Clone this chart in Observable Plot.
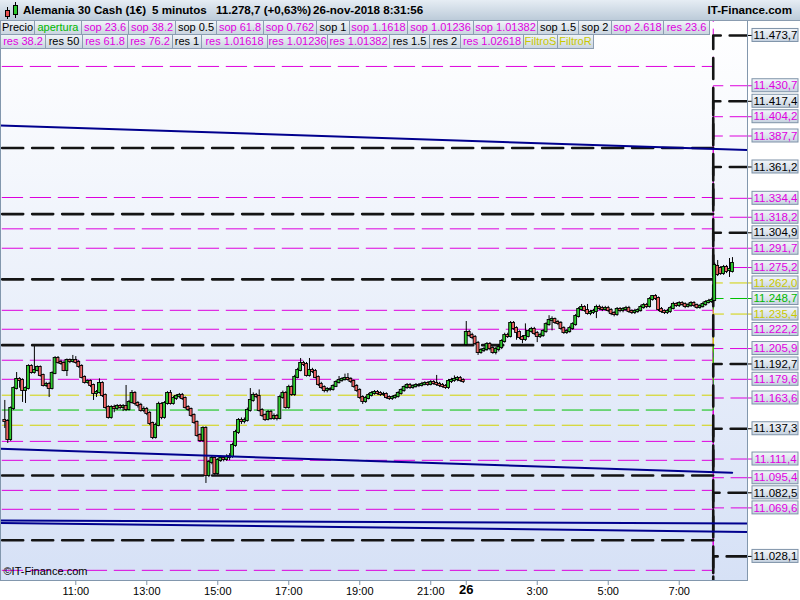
<!DOCTYPE html>
<html><head><meta charset="utf-8">
<script src="https://cdn.jsdelivr.net/npm/d3@7"></script>
<script src="https://cdn.jsdelivr.net/npm/@observablehq/plot@0.6"></script>
<style>
body{margin:0;background:#fff;}
#wrap{position:relative;width:800px;height:600px;overflow:hidden;font-family:"Liberation Sans",Arial,sans-serif;}
#chart{position:absolute;left:0;top:20px;}
#hdr{position:absolute;left:0;top:0;width:800px;height:21px;background:linear-gradient(#e6edf4,#bccbd9);box-sizing:border-box;border-bottom:1px solid #8a9cb0;}
.ht{position:absolute;top:3px;font-weight:bold;font-size:11.6px;color:#000;white-space:nowrap;}
.lg{position:absolute;height:15px;box-sizing:border-box;border:1px solid #8c9eb2;background:linear-gradient(#f0f4f8,#cad5e0);font-size:11px;line-height:13px;text-align:center;white-space:nowrap;overflow:hidden;}
</style></head><body>
<div id="wrap"><div id="chart"></div><div id="hdr"></div><div id="legend"></div></div>
<script>
// ---------- data ----------
const titleParts = ["Alemania 30 Cash (1€)", "5 minutos", "11.278,7 (+0,63%)", "26-nov-2018 8:31:56"];
const siteName = "IT-Finance.com";

// 5-minute bars: index 0 = Fri 23-nov 9:00 ... 155 = 21:55, 156 = Mon 26-nov 1:00 ... 246 = 8:30
const opens = [11144.4,11143.5,11128.1,11154.6,11171.7,11179.4,11178.6,11170.0,11171.7,11190.6,11185.4,11187.1,11189.7,11182.9,11174.3,11175.2,11171.7,11184.6,11197.4,11194.0,11193.1,11187.1,11195.7,11194.8,11195.7,11194.0,11190.6,11181.2,11176.9,11177.7,11174.3,11167.5,11168.3,11176.0,11165.8,11155.5,11147.0,11155.5,11154.6,11156.3,11155.5,11156.3,11153.8,11159.8,11167.5,11158.9,11157.2,11152.9,11153.8,11150.4,11141.8,11129.8,11140.1,11158.1,11147.0,11158.9,11167.5,11158.9,11163.2,11164.9,11165.8,11163.2,11155.5,11153.8,11148.7,11142.7,11131.5,11127.2,11137.5,11097.3,11108.4,11111.9,11099.0,11110.1,11111.9,11111.0,11112.7,11113.5,11123.0,11134.1,11144.4,11143.5,11144.4,11152.9,11161.5,11165.8,11164.9,11152.9,11148.7,11145.2,11151.2,11146.1,11147.8,11146.1,11164.0,11167.5,11155.5,11172.6,11166.6,11181.2,11187.1,11193.1,11192.3,11182.9,11187.1,11186.3,11181.2,11175.2,11172.6,11170.0,11170.9,11170.9,11173.5,11176.9,11178.6,11179.4,11180.3,11179.4,11177.7,11173.5,11170.0,11164.0,11160.6,11163.2,11165.8,11167.5,11168.3,11167.5,11166.6,11166.6,11164.0,11163.2,11164.0,11164.9,11167.5,11170.0,11172.6,11174.3,11172.6,11173.5,11174.3,11174.3,11175.2,11176.0,11175.2,11176.9,11176.0,11175.2,11174.3,11173.5,11172.6,11177.7,11178.6,11179.4,11180.3,11178.6,
11209.3,11219.6,11217.0,11215.3,11210.2,11202.5,11204.2,11205.1,11209.3,11205.9,11202.5,11205.1,11206.8,11211.9,11217.0,11216.2,11227.3,11223.0,11219.6,11215.3,11213.6,11216.2,11220.5,11222.2,11218.8,11216.2,11217.0,11220.5,11226.4,11229.9,11230.7,11228.2,11227.3,11223.0,11219.6,11220.5,11223.0,11226.4,11233.3,11239.3,11241.0,11238.4,11235.9,11236.7,11237.6,11241.0,11240.1,11239.3,11240.1,11238.4,11235.9,11235.0,11239.3,11238.4,11239.3,11240.1,11237.6,11236.7,11237.6,11238.4,11241.0,11242.7,11241.9,11247.9,11250.4,11248.7,11239.3,11237.6,11236.7,11237.6,11240.1,11243.6,11242.7,11244.4,11243.6,11241.9,11242.7,11244.4,11242.7,11241.0,11241.9,11243.6,11245.3,11246.1,11247.0,11276.1,11274.4,11270.1,11275.2,11272.7,11271.8];
const highs = [11161.5,11145,11156,11173,11185.4,11181,11180,11173,11192,11192,11207.6,11191,11191,11184,11177,11177,11186,11199,11199.1,11196,11195,11197,11197,11200,11199,11195.5,11192,11182.5,11179,11179,11175.5,11170,11180,11177.5,11167,11157,11157,11157.5,11158,11158,11158,11174.3,11161.5,11170,11169,11160.5,11159,11156,11155.5,11152,11143,11142,11160,11159.5,11160.5,11169,11170,11165,11166.5,11167.5,11167.5,11164.5,11157,11155,11150,11144,11133,11139,11139,11110,11114,11113,11112,11114,11113.5,11115,11116,11125,11136,11146,11146.5,11146.5,11155,11171.7,11168,11167.5,11170.5,11154.5,11150,11153,11153,11150,11149.5,11166,11169.5,11169,11174.5,11174,11183,11189,11197.4,11195,11194,11197.4,11189,11188,11182.5,11177,11174,11172.5,11172.5,11175,11178.5,11182,11181,11184,11184.5,11181,11179,11175,11171.5,11165.5,11165,11167.5,11169,11170,11170,11169,11168.5,11168,11165.5,11165.5,11166.5,11169,11171.5,11174,11176,11176,11175,11176,11176,11177,11177.5,11177.5,11178.5,11178.5,11182.9,11177,11176,11175,11179.5,11180.5,11182.5,11182,11182,11180,
11229.0,11221.5,11219,11217,11212,11206,11207,11211,11211,11207.5,11207,11209,11213.5,11219,11219,11229,11229,11224.5,11221,11217,11227,11222,11224,11224,11220.5,11219,11222,11228,11234,11233,11232,11230,11229,11224.5,11222,11225,11228,11235,11241,11243.6,11242.5,11243.6,11238.5,11239.5,11243,11243,11242,11242,11242,11240,11237.5,11241,11241,11241,11242,11242,11239,11239.5,11240,11243,11244.5,11244.5,11249.5,11251.3,11252,11250,11241,11239,11239.5,11242,11245.5,11245,11246,11246,11245,11244.5,11246,11246,11244,11243.5,11245.5,11247,11248,11249,11279,11281.2,11276,11277,11277,11282.9,11283.7];
const lows = [11137.5,11124.7,11126.5,11153,11170.5,11172,11159.8,11158.9,11170.5,11184,11184,11186,11181.5,11173,11172.5,11164.0,11170.5,11183.5,11192.5,11191.5,11186,11182.0,11193,11193.5,11192.5,11189,11180,11175.5,11175.5,11172.5,11161.5,11164,11167,11164,11154,11145.5,11145.5,11151,11153,11153.5,11152,11152,11152.5,11158.5,11157,11155,11151.5,11151,11148.5,11140,11128,11128.5,11139,11145,11145.5,11157.5,11157.5,11157.5,11161.5,11163,11161.5,11154,11152,11147,11141,11130,11125.5,11125.5,11090.5,11095.5,11106.5,11097.5,11097.5,11108.5,11109,11109.5,11110,11112,11121.5,11132.5,11141,11141.5,11143,11151.5,11160,11163,11151.5,11147,11143.5,11144,11144.5,11144.5,11144,11145,11162.5,11154,11154,11165,11165,11180,11186,11190.5,11181.5,11181.5,11184.5,11180,11173.5,11171,11168,11168,11169,11169.5,11172.5,11175.5,11177,11178,11178,11176,11172,11168.5,11162.5,11158.1,11159,11162,11164.5,11166,11166,11165,11165,11162.5,11161.5,11161.5,11162.5,11163.5,11166,11168.5,11171,11171,11171,11172,11172.5,11173,11174,11173.5,11174,11174.5,11173.5,11172.5,11172,11171,11171,11176,11177,11177.5,11177,11176,
11208,11215.5,11213.5,11208.5,11200.0,11201,11202.5,11203.5,11204,11201,11200.5,11203,11205,11210.5,11214.5,11215,11221.5,11213,11213.5,11210,11212,11215,11219,11217,11211,11214.5,11215.5,11219,11225,11221,11226.5,11225.5,11221.5,11218,11218,11219,11221.5,11225,11232,11238,11237,11234.5,11234,11235,11231.5,11238.5,11237.5,11238,11236.5,11234,11233,11233.5,11236.5,11236.5,11237.5,11236,11235,11235,11236,11237,11239.5,11240,11240.5,11246.5,11247,11237.5,11236,11235,11235,11236,11239,11241,11241,11242,11240,11240.5,11241,11241,11239.5,11239.5,11240.5,11242,11244,11244.5,11246,11267.5,11268.5,11268.5,11270,11266.7,11270.5];
const closes = [11143.5,11128.1,11154.6,11171.7,11179.4,11178.6,11170.0,11171.7,11190.6,11185.4,11187.1,11189.7,11182.9,11174.3,11175.2,11171.7,11184.6,11197.4,11194.0,11193.1,11187.1,11195.7,11194.8,11195.7,11194.0,11190.6,11181.2,11176.9,11177.7,11174.3,11167.5,11168.3,11176.0,11165.8,11155.5,11147.0,11155.5,11154.6,11156.3,11155.5,11156.3,11153.8,11159.8,11167.5,11158.9,11157.2,11152.9,11153.8,11150.4,11141.8,11129.8,11140.1,11158.1,11147.0,11158.9,11167.5,11158.9,11163.2,11164.9,11165.8,11163.2,11155.5,11153.8,11148.7,11142.7,11131.5,11127.2,11137.5,11097.3,11108.4,11111.9,11099.0,11110.1,11111.9,11111.0,11112.7,11113.5,11123.0,11134.1,11144.4,11143.5,11144.4,11152.9,11161.5,11165.8,11164.9,11152.9,11148.7,11145.2,11151.2,11146.1,11147.8,11146.1,11164.0,11167.5,11155.5,11172.6,11166.6,11181.2,11187.1,11193.1,11192.3,11182.9,11187.1,11186.3,11181.2,11175.2,11172.6,11170.0,11170.9,11170.9,11173.5,11176.9,11178.6,11179.4,11180.3,11179.4,11177.7,11173.5,11170.0,11164.0,11160.6,11163.2,11165.8,11167.5,11168.3,11167.5,11166.6,11166.6,11164.0,11163.2,11164.0,11164.9,11167.5,11170.0,11172.6,11174.3,11172.6,11173.5,11174.3,11174.3,11175.2,11176.0,11175.2,11176.9,11176.0,11175.2,11174.3,11173.5,11172.6,11177.7,11178.6,11179.4,11180.3,11178.6,11177.7,
11219.6,11217.0,11215.3,11210.2,11202.5,11204.2,11205.1,11209.3,11205.9,11202.5,11205.1,11206.8,11211.9,11217.0,11216.2,11227.3,11223.0,11219.6,11215.3,11213.6,11216.2,11220.5,11222.2,11218.8,11216.2,11217.0,11220.5,11226.4,11229.9,11230.7,11228.2,11227.3,11223.0,11219.6,11220.5,11223.0,11226.4,11233.3,11239.3,11241.0,11238.4,11235.9,11236.7,11237.6,11241.0,11240.1,11239.3,11240.1,11238.4,11235.9,11235.0,11239.3,11238.4,11239.3,11240.1,11237.6,11236.7,11237.6,11238.4,11241.0,11242.7,11241.9,11247.9,11250.4,11248.7,11239.3,11237.6,11236.7,11237.6,11240.1,11243.6,11242.7,11244.4,11243.6,11241.9,11242.7,11244.4,11242.7,11241.0,11241.9,11243.6,11245.3,11246.1,11247.0,11276.9,11269.2,11270.1,11275.2,11271.8,11273.5,11278.7];

// x-axis ticks (bar index) and labels
const tickIdx = [24, 48, 72, 96, 120, 144, 156, 180, 204, 228];
const tickLabels = ["11:00","13:00","15:00","17:00","19:00","21:00","26","3:00","5:00","7:00"];

// pivot / fibonacci levels: previous session and current session (switch at 8:00)
const levelNames = ["apertura","sop 23.6","sop 38.2","sop 0.5","sop 61.8","sop 0.762","sop 1","sop 1.1618","sop 1.01236","sop 1.01382","sop 1.5","sop 2","sop 2.618","res 23.6","res 38.2","res 50","res 61.8","res 76.2","res 1","res 1.01618","res 1.01236","res 1.01382","res 1.5","res 2","res 1.02618","FiltroS","FiltroR"];
const levelKind = ["open","fib","fib","pivot","fib","fib","pivot","fib","fib","fib","pivot","pivot","fib","fib","fib","pivot","fib","fib","pivot","fib","fib","fib","pivot","pivot","fib","filter","filter"];
const prevLevels = [11153.3,11126.5,11110.3,11097.3,11084.6,11068.4,11041.9,11016.2,11000.3,10974.6,10985.3,10929.3,10859.0,11179.6,11195.9,11208.8,11222.4,11238.6,11265.1,11291.7,11308.3,11335.1,11320.9,11377.5,11447.2,11140.3,11166.0];
const currLevels = [11248.7,11222.2,11205.9,11192.7,11179.6,11163.6,11137.3,11111.4,11095.4,11069.6,11082.5,11028.1,10954.7,11275.2,11291.7,11304.9,11318.2,11334.4,11361.2,11387.7,11404.2,11430.7,11417.4,11473.7,11542.7,11235.4,11262.0];
const levelStartIdx = -2, levelSwitchIdx = 239.5, levelEndIdx = 253;

// trend lines (bar index start/end, price start/end)
const trendStartIdx = [-1.5, -1.5, -1.5, -1.5];
const trendEndIdx = [251.5, 245.9, 251.5, 251.5];
const trendStartVal = [11396.7, 11120.1, 11058.8, 11056.7];
const trendEndVal = [11375.7, 11099.6, 11056.3, 11049.0];

// legend
const legendRow1 = ["Precio","apertura","sop 23.6","sop 38.2","sop 0.5","sop 61.8","sop 0.762","sop 1","sop 1.1618","sop 1.01236","sop 1.01382","sop 1.5","sop 2","sop 2.618","res 23.6"];
const legendRow2 = ["res 38.2","res 50","res 61.8","res 76.2","res 1","res 1.01618","res 1.01236","res 1.01382","res 1.5","res 2","res 1.02618","FiltroS","FiltroR"];

// ---------- styles ----------
const lineColor = {open: "#00c000", fib: "#dd00dd", pivot: "#141414", filter: "#d2d200"};
const textColor = {open: "#00b800", fib: "#e000e0", pivot: "#000000", filter: "#c8c800", price: "#000000"};
const legendEdges1 = [0,34,81,128,175,216,263,316,349,407,473,537,578,611,663,709];
const legendEdges2 = [0,45,82,127,172,201,267,327,389,429,460,523,557,593];

// ---------- header & legend ----------
const hdr = document.getElementById("hdr");
hdr.innerHTML = `<svg width="20" height="20" style="position:absolute;left:2px;top:0">
<line x1="5.5" y1="7" x2="5.5" y2="19" stroke="#000"/><rect x="3.5" y="10.5" width="4" height="6" fill="#e85050" stroke="#000"/>
<line x1="13.5" y1="2" x2="13.5" y2="18" stroke="#000"/><rect x="11.5" y="5.5" width="4" height="9" fill="#30c830" stroke="#000"/></svg>`;
const titleX = [23, 152, 216, 313];
titleParts.forEach((t, k) => {
  const s = document.createElement("span"); s.className = "ht"; s.style.left = titleX[k] + "px"; s.textContent = t; hdr.appendChild(s);
});
const site = document.createElement("span"); site.className = "ht"; site.style.right = "8px"; site.textContent = siteName; hdr.appendChild(site);

function kindOf(name) {
  if (name === "Precio") return "price";
  return levelKind[levelNames.indexOf(name)];
}
const legend = document.getElementById("legend");
[[legendRow1, legendEdges1, 20], [legendRow2, legendEdges2, 34]].forEach(([row, edges, top]) => {
  row.forEach((name, k) => {
    const s = document.createElement("span");
    s.className = "lg";
    s.style.left = edges[k] + "px";
    s.style.width = (edges[k + 1] - edges[k] + 1) + "px";
    s.style.top = top + "px";
    s.style.color = textColor[kindOf(name)];
    s.textContent = name;
    legend.appendChild(s);
  });
});

// ---------- chart ----------
const yMin = 11007.5, yMax = 11486.5;
const fmt = d3.formatLocale({decimal: ",", thousands: ".", grouping: [3], currency: ["", "€"]}).format(",.1f");
const candles = closes.map((c, k) => ({i: k, o: opens[k], h: highs[k], l: lows[k], c}));
const levelRows = levelNames.flatMap((n, k) => [
  {name: n, kind: levelKind[k], i: levelStartIdx, v: prevLevels[k]},
  {name: n, kind: levelKind[k], i: levelSwitchIdx, v: currLevels[k]},
  {name: n, kind: levelKind[k], i: levelEndIdx, v: currLevels[k]}
]);
const trendRows = trendStartIdx.flatMap((s, k) => [
  {id: k, i: s, v: trendStartVal[k]}, {id: k, i: trendEndIdx[k], v: trendEndVal[k]}
]);
const labelRows = levelNames.map((n, k) => ({name: n, kind: levelKind[k], v: currLevels[k]}))
  .filter(d => d.v > yMin + 6 && d.v < yMax - 6);
const ticks = tickIdx.map((i, k) => ({i, label: tickLabels[k], bold: tickLabels[k] === "26"}));

function levelMark(kind, width, dash) {
  return Plot.line(levelRows.filter(d => d.kind === kind), {
    x: "i", y: "v", z: "name", curve: "step-after", stroke: lineColor[kind],
    strokeWidth: width, strokeDasharray: dash, strokeDashoffset: -3.3, clip: true
  });
}

const plot = Plot.plot({
  width: 800, height: 580,
  marginTop: 0, marginRight: 53, marginBottom: 20, marginLeft: 0,
  x: {domain: [-1.454, 251.08], axis: null},
  y: {domain: [yMin, yMax], axis: null},
  color: {type: "identity"},
  style: {fontFamily: "'Liberation Sans', Arial, sans-serif", fontSize: "11px", background: "#ffffff", overflow: "visible"},
  marks: [
    Plot.frame({fill: "#ecf1fb"}),
    levelMark("fib", 1, "20.5,7.5"),
    levelMark("filter", 1, "20.5,7.5"),
    levelMark("open", 1, "20.5,7.5"),
    levelMark("pivot", 2.6, "21,9"),
    Plot.ruleX(candles, {x: "i", y1: "l", y2: "h", stroke: "#000", strokeWidth: 1}),
    Plot.rect(candles.filter(d => d.c >= d.o), {x1: d => d.i - 0.48, x2: d => d.i + 0.48, y1: "o", y2: "c", fill: "#2fcc2f", stroke: "#000", strokeWidth: 0.9, insetTop: -0.5, insetBottom: -0.5}),
    Plot.rect(candles.filter(d => d.c < d.o), {x1: d => d.i - 0.48, x2: d => d.i + 0.48, y1: "o", y2: "c", fill: "#f06666", stroke: "#000", strokeWidth: 0.9, insetTop: -0.5, insetBottom: -0.5}),
    Plot.line(trendRows, {x: "i", y: "v", z: "id", stroke: "#00008e", strokeWidth: 2, clip: true}),
    Plot.text(["©IT-Finance.com"], {frameAnchor: "bottom-left", dx: 3, dy: -6, textAnchor: "start", fontSize: 11, fill: "#000"}),
    Plot.frame({stroke: "#8297ad"}),
    // right-hand level labels
    Plot.ruleY(labelRows, {y: "v", stroke: d => textColor[d.kind], insetLeft: 748, insetRight: -5}),
    Plot.rect(labelRows, {y1: "v", y2: "v", insetTop: -6.5, insetBottom: -6.5, insetLeft: 752, insetRight: -51, fill: "#dfe6ef", stroke: "#7f93a8"}),
    Plot.text(labelRows, {y: "v", text: d => fmt(d.v), frameAnchor: "right", dx: 28, textAnchor: "middle", fontSize: 11.5, fill: d => textColor[d.kind]}),
    // x axis
    Plot.ruleX(ticks, {x: "i", stroke: "#7f93a8", insetTop: 561, insetBottom: -5}),
    Plot.text(ticks.filter(d => !d.bold), {x: "i", text: "label", frameAnchor: "bottom", dy: 14, fontSize: 11, fill: "#000"}),
    Plot.text(ticks.filter(d => d.bold), {x: "i", text: "label", frameAnchor: "bottom", dy: 13, fontSize: 13, fontWeight: "bold", fill: "#000"})
  ]
});

const ns = "http://www.w3.org/2000/svg";
const defs = document.createElementNS(ns, "defs");
defs.innerHTML = `<linearGradient id="bgG" x1="0" y1="0" x2="0" y2="1"><stop offset="0" stop-color="#ffffff"/><stop offset="1" stop-color="#d6e1f6"/></linearGradient>
<linearGradient id="lbG" x1="0" y1="0" x2="0" y2="1"><stop offset="0" stop-color="#f4f7fb"/><stop offset="1" stop-color="#c6d2e0"/></linearGradient>`;
plot.insertBefore(defs, plot.firstChild);
plot.querySelectorAll('[fill="#ecf1fb"]').forEach(e => e.setAttribute("fill", "url(#bgG)"));
plot.querySelectorAll('[fill="#dfe6ef"]').forEach(e => e.setAttribute("fill", "url(#lbG)"));
document.getElementById("chart").appendChild(plot);
</script>
</body></html>
